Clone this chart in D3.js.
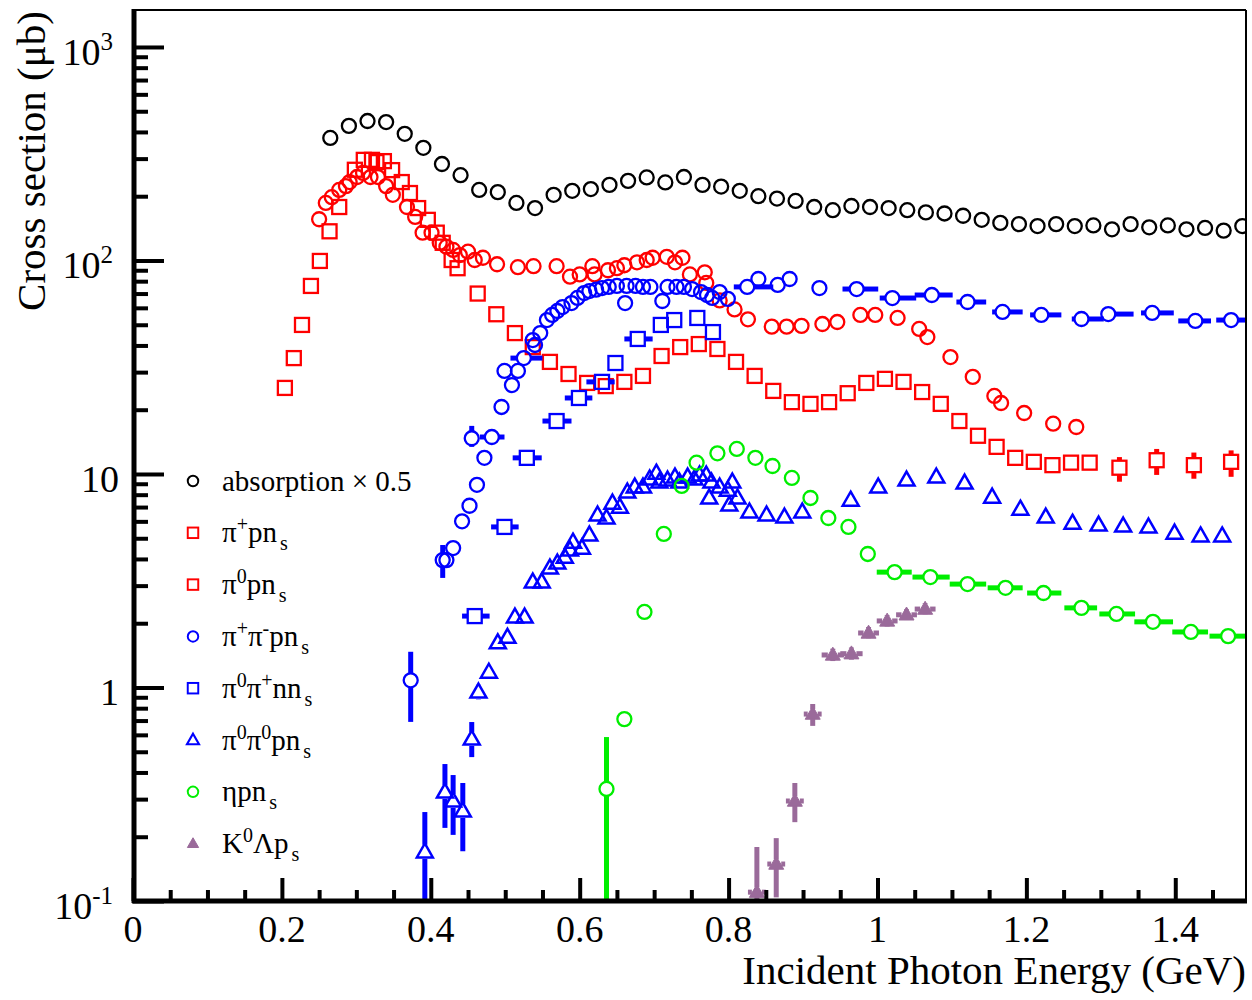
<!DOCTYPE html>
<html><head><meta charset="utf-8">
<script src="https://cdn.jsdelivr.net/npm/d3@7"></script>
<style>body{margin:0;background:#fff} text{font-family:"Liberation Serif","Times New Roman",serif;fill:#000}</style>
</head><body><svg id="c" width="1252" height="1000"></svg>
<script>
// ---------------- data ----------------
// rows: [E (GeV), sigma, errLow, errHigh, binLow, binHigh]
const absorption = [[0.265,375],[0.29,427],[0.315,450],[0.34,445],[0.365,392],[0.39,337],[0.415,283],[0.44,251],[0.465,214],[0.49,209],[0.515,186],[0.54,176],[0.565,203],[0.59,212],[0.615,216],[0.64,226],[0.665,236],[0.69,245],[0.715,232],[0.74,246],[0.765,226],[0.79,222],[0.815,212],[0.84,200],[0.865,195],[0.89,190],[0.915,178],[0.94,172],[0.965,180],[0.99,178],[1.015,176],[1.04,172],[1.065,168],[1.09,166],[1.115,162],[1.14,155],[1.165,150],[1.19,148],[1.215,145],[1.24,148],[1.265,145],[1.29,146],[1.315,140],[1.34,148],[1.365,143],[1.39,146],[1.415,140],[1.44,142],[1.465,138],[1.49,145]];
const piPlusP = [[0.250,156],[0.259,186],[0.267,198],[0.277,214],[0.286,223],[0.291,233],[0.301,246],[0.309,257],[0.319,246],[0.329,246],[0.340,223],[0.349,203],[0.368,178],[0.379,160],[0.389,135],[0.401,135],[0.412,121],[0.421,116],[0.430,112],[0.439,106],[0.450,110],[0.459,100.5],[0.470,103],[0.489,96],[0.517,93],[0.538,94],[0.569,94],[0.587,84],[0.600,86],[0.617,94],[0.620,86],[0.638,90],[0.650,92],[0.660,95],[0.677,98],[0.690,100.5],[0.698,103],[0.717,104],[0.728,98],[0.738,103],[0.748,86],[0.768,88],[0.770,78.5],[0.788,65],[0.808,59],[0.826,53],[0.858,49],[0.878,49],[0.898,49.4],[0.926,50.4],[0.946,51.5],[0.977,55.6],[0.997,55.6],[1.027,53.8],[1.056,47.8],[1.067,43.8],[1.098,35.3],[1.128,28.5],[1.157,23.2],[1.166,21.5],[1.197,19.3],[1.236,17.2],[1.267,16.6]];
const piZeroP = [[0.204,25.3],[0.216,34.9],[0.227,49.9],[0.239,76],[0.251,99.5],[0.264,137],[0.277,178],[0.298,266],[0.310,296],[0.321,296],[0.327,289],[0.337,292],[0.348,265],[0.361,233],[0.372,207],[0.383,176],[0.396,155],[0.408,135],[0.416,121],[0.428,100.5],[0.436,92],[0.463,70],[0.488,56],[0.513,45.7],[0.537,39.3],[0.56,33.5],[0.585,29.4],[0.61,26.7],[0.635,25.8],[0.66,27.0],[0.685,28.8],[0.71,35.7],[0.735,39.3],[0.76,40.6],[0.785,38.5],[0.81,33.5],[0.835,28.8],[0.86,24.5],[0.885,21.7],[0.91,21.3],[0.935,21.7],[0.96,23.9],[0.985,26.7],[1.01,27.9],[1.035,27.0],[1.06,24.2],[1.085,21.3],[1.11,17.7],[1.135,15.1],[1.16,13.4],[1.185,11.9],[1.21,11.4],[1.235,11.0],[1.26,11.3],[1.285,11.3],[1.325,10.7,9.2,12.0],[1.375,11.6,9.9,13.1],[1.425,11.0,9.5,12.6],[1.475,11.4,9.7,12.9]];
const piPlusPiMinusP = [[0.373,1.08,0.69,1.47],[0.416,3.95,3.26,4.65],[0.421,3.95],[0.430,4.5],[0.442,6.0],[0.452,7.1],[0.455,14.7,13.4,16.8],[0.462,8.9],[0.472,11.9],[0.482,14.9,null,null,0.466,0.499],[0.495,20.6],[0.499,30.4],[0.509,26.1],[0.517,30.4],[0.525,34.9,null,null,0.507,0.550],[0.537,42.4],[0.540,40.2],[0.547,45.7],[0.556,52.6],[0.563,55.6],[0.570,58.0],[0.577,60.5],[0.589,63.2],[0.597,66.8],[0.606,70.4],[0.613,71.9],[0.622,73.0],[0.630,74.3],[0.639,75.2],[0.650,76.0],[0.661,63.2],[0.663,76.0],[0.675,76.0],[0.685,75.2],[0.695,75.2],[0.711,64.6],[0.718,75.2],[0.730,75.2],[0.740,75.2],[0.751,73.5],[0.763,71.1],[0.771,68.9],[0.778,66.8],[0.788,71.1],[0.799,66.1],[0.825,75.2,null,null,0.807,0.860],[0.840,81.9],[0.866,76.8],[0.882,81.9,76,88],[0.922,74.3,69,80],[0.972,73.5,null,null,0.953,1.001],[1.020,66.7,null,null,1.003,1.052],[1.073,68.9,null,null,1.050,1.101],[1.121,63.9,null,null,1.106,1.146],[1.168,57.4,null,null,1.154,1.195],[1.220,55.6,null,null,1.205,1.247],[1.274,53.2,null,null,1.261,1.304],[1.310,56.1,null,null,1.301,1.344],[1.369,56.8,null,null,1.354,1.398],[1.427,52.1,null,null,1.404,1.448],[1.475,52.6,null,null,1.455,1.497]];
const piZeroPiPlusN = [[0.459,2.16,null,null,0.442,0.479],[0.499,5.65,null,null,0.481,0.518],[0.529,11.9,null,null,0.510,0.549],[0.569,17.7,null,null,0.550,0.589],[0.599,22.7,null,null,0.580,0.617],[0.630,27.0,null,null,0.609,0.647],[0.648,33.1],[0.678,42.9,null,null,0.660,0.698],[0.709,49.9],[0.727,52.6],[0.758,53.8],[0.779,46.2]];
const piZeroPiZeroP = [[0.392,0.170,0.098,0.261],[0.419,0.324,0.220,0.438],[0.430,0.294,0.204,0.389],[0.443,0.264,0.171,0.357],[0.455,0.574,0.472,0.689],[0.464,0.953,0.88,1.03],[0.478,1.18,1.10,1.27],[0.490,1.62],[0.503,1.72],[0.513,2.14],[0.526,2.14],[0.537,3.12],[0.549,3.12],[0.560,3.63],[0.570,3.83],[0.580,4.08],[0.587,4.41],[0.591,4.80],[0.603,4.50],[0.613,5.18],[0.624,6.43],[0.636,6.22],[0.644,7.31],[0.654,7.00],[0.664,8.24],[0.674,8.69],[0.685,8.69],[0.694,9.48],[0.703,10.1],[0.707,9.18],[0.718,9.37],[0.728,9.68],[0.734,9.18],[0.745,9.68],[0.754,9.48],[0.761,9.89],[0.770,9.89],[0.774,7.72],[0.777,9.18],[0.788,8.69],[0.799,8.41],[0.801,7.16],[0.805,9.18],[0.812,7.72],[0.828,6.64],[0.851,6.43],[0.875,6.29],[0.899,6.64],[0.964,7.55],[1.001,8.69],[1.039,9.37],[1.079,9.68],[1.117,9.08],[1.154,7.80],[1.192,6.85],[1.226,6.29],[1.262,5.89],[1.297,5.77],[1.330,5.71],[1.364,5.65],[1.399,5.29],[1.434,5.13],[1.463,5.13]];
const etaP = [[0.636,0.335,0.05,0.586],[0.660,0.711,null,null,0.652,0.668],[0.687,2.26],[0.713,5.24],[0.737,8.79],[0.757,11.3],[0.785,12.5],[0.811,13.1],[0.836,11.9],[0.859,10.9],[0.885,9.58],[0.910,7.72],[0.934,6.22],[0.961,5.65],[0.987,4.22],[1.023,3.47,null,null,0.999,1.046],[1.071,3.29,null,null,1.047,1.097],[1.121,3.05,null,null,1.097,1.146],[1.172,2.93,null,null,1.148,1.195],[1.223,2.77,null,null,1.201,1.247],[1.274,2.36,null,null,1.251,1.295],[1.321,2.21,null,null,1.298,1.346],[1.370,2.03,null,null,1.345,1.397],[1.421,1.82,null,null,1.396,1.444],[1.471,1.74,null,null,1.446,1.495]];
const kaonLambda = [[0.838,0.110,0.05,0.179,0.826,0.850],[0.864,0.149,0.104,0.197,0.852,0.876],[0.889,0.294,0.234,0.357,0.877,0.901],[0.913,0.751,0.661,0.837,0.901,0.925],[0.940,1.42,1.33,1.52,0.925,0.955],[0.965,1.44,1.35,1.54,0.950,0.980],[0.988,1.80,1.70,1.92,0.974,1.002],[1.013,2.05,1.93,2.18,0.999,1.027],[1.039,2.19,2.07,2.33,1.025,1.053],[1.064,2.33,2.20,2.48,1.050,1.078]];

const xTickValues = [0,0.2,0.4,0.6,0.8,1,1.2,1.4];
const xTickLabels = ["0","0.2","0.4","0.6","0.8","1","1.2","1.4"];
const yTickValues = [0.1,1,10,100,1000];
const yTickLabels = ["10^{-1}","1","10","10^{2}","10^{3}"];
const legendLabels = ["absorption × 0.5","π^{+}pn_{s}","π^{0}pn_{s}","π^{+}π^{-}pn_{s}","π^{0}π^{+}nn_{s}","π^{0}π^{0}pn_{s}","ηpn_{s}","K^{0}Λp_{s}"];
const xTitle = "Incident Photon Energy (GeV)";
const yTitle = "Cross section (μb)";

// ---------------- layout ----------------
const svg = d3.select("#c");
const L=133, R=1246, T=10, B=901;
const x = d3.scaleLinear().domain([0,1.495]).range([L,R]);
const y = d3.scaleLog().domain([0.1,1490]).range([B,T]);

const series = [
  {data:absorption, color:"#000", shape:"circle"},
  {data:piPlusP, color:"#ff0000", shape:"circle"},
  {data:piZeroP, color:"#ff0000", shape:"square"},
  {data:piPlusPiMinusP, color:"#0000ff", shape:"circle"},
  {data:piZeroPiPlusN, color:"#0000ff", shape:"square"},
  {data:piZeroPiZeroP, color:"#0000ff", shape:"triangle"},
  {data:etaP, color:"#00ee00", shape:"circle"},
  {data:kaonLambda, color:"#9a6a9a", shape:"ftriangle"}
];
const legendShapes = [
  {color:"#000",shape:"circle"},{color:"#ff0000",shape:"square"},{color:"#ff0000",shape:"square"},
  {color:"#0000ff",shape:"circle"},{color:"#0000ff",shape:"square"},{color:"#0000ff",shape:"triangle"},
  {color:"#00ee00",shape:"circle"},{color:"#9a6a9a",shape:"ftriangle"}
];

svg.append("defs").append("clipPath").attr("id","clip").append("rect")
  .attr("x",L).attr("y",T).attr("width",R-L).attr("height",B-T);

function drawMarker(g, shape, color, cx, cy, s){
  if(shape==="circle"){
    g.append("circle").attr("cx",cx).attr("cy",cy).attr("r",7*s)
      .attr("fill","none").attr("stroke",color).attr("stroke-width",2.3*Math.max(s,0.85));
  } else if(shape==="square"){
    const h=7*s;
    g.append("rect").attr("x",cx-h).attr("y",cy-h).attr("width",2*h).attr("height",2*h)
      .attr("fill","none").attr("stroke",color).attr("stroke-width",2.3*Math.max(s,0.85));
  } else if(shape==="triangle"){
    const w=8*s, hh=14*s;
    g.append("path").attr("d",`M${cx},${cy-hh*0.6}L${cx+w},${cy+hh*0.4}L${cx-w},${cy+hh*0.4}Z`)
      .attr("fill","none").attr("stroke",color).attr("stroke-width",2.5*Math.max(s,0.85));
  } else {
    const w=7.5*s, hh=13*s;
    g.append("path").attr("d",`M${cx},${cy-hh*0.6}L${cx+w},${cy+hh*0.4}L${cx-w},${cy+hh*0.4}Z`)
      .attr("fill",color).attr("stroke",color).attr("stroke-width",1);
  }
}

const plot = svg.append("g").attr("clip-path","url(#clip)");
series.forEach(sr=>{
  const g = plot.append("g");
  const gap = sr.shape==="ftriangle" ? 5 : 7;
  sr.data.forEach(d=>{
    const cx=x(d[0]), cy=y(d[1]);
    if(d[2]!=null && d[3]!=null){
      const yl=y(Math.max(d[2],0.05)), yh=y(d[3]);
      if(yh < cy-gap) g.append("line").attr("x1",cx).attr("x2",cx).attr("y1",cy-gap).attr("y2",yh)
          .attr("stroke",sr.color).attr("stroke-width",5);
      if(yl > cy+gap) g.append("line").attr("x1",cx).attr("x2",cx).attr("y1",cy+gap).attr("y2",Math.min(yl,B+5))
          .attr("stroke",sr.color).attr("stroke-width",5);
    }
    if(d[4]!=null && d[5]!=null){
      const xl=x(d[4]), xh=x(d[5]);
      if(xl < cx-gap) g.append("line").attr("x1",xl).attr("x2",cx-gap).attr("y1",cy).attr("y2",cy)
          .attr("stroke",sr.color).attr("stroke-width",5);
      if(xh > cx+gap) g.append("line").attr("x1",cx+gap).attr("x2",xh).attr("y1",cy).attr("y2",cy)
          .attr("stroke",sr.color).attr("stroke-width",5);
    }
    drawMarker(g, sr.shape, sr.color, cx, cy, 1);
  });
});

// ---------------- axes ----------------
const xMinor = d3.range(0,1.5,0.05).map(v=>+v.toFixed(2)).filter(v=>!xTickValues.some(t=>Math.abs(t-v)<1e-6));
const yMinor = [];
[-1,0,1,2,3].forEach(k=>{for(let m=2;m<=9;m++){const v=m*Math.pow(10,k); if(v<1490) yMinor.push(v);}});

function styleAxis(g){ g.select(".domain").remove(); g.selectAll(".tick line").attr("stroke","#000").attr("stroke-width",4); g.selectAll(".tick text").remove(); }
svg.append("g").attr("transform",`translate(0,${B})`).call(d3.axisBottom(x).tickValues(xTickValues).tickSize(-23)).call(styleAxis);
svg.append("g").attr("transform",`translate(0,${B})`).call(d3.axisBottom(x).tickValues(xMinor).tickSize(-11)).call(styleAxis);
svg.append("g").attr("transform",`translate(${L},0)`).call(d3.axisLeft(y).tickValues(yTickValues).tickSize(-31)).call(styleAxis);
svg.append("g").attr("transform",`translate(${L},0)`).call(d3.axisLeft(y).tickValues(yMinor).tickSize(-15)).call(styleAxis);

// frame
svg.append("line").attr("x1",L).attr("x2",R).attr("y1",T).attr("y2",T).attr("stroke","#000").attr("stroke-width",2);
svg.append("line").attr("x1",R).attr("x2",R).attr("y1",T).attr("y2",B).attr("stroke","#000").attr("stroke-width",2);
svg.append("line").attr("x1",L+1).attr("x2",L+1).attr("y1",T-1).attr("y2",B+2).attr("stroke","#000").attr("stroke-width",5);
svg.append("line").attr("x1",L-1).attr("x2",R+1).attr("y1",B).attr("y2",B).attr("stroke","#000").attr("stroke-width",5);

// rich text helper: ^{..} superscript, _{..} subscript
function richText(sel, str, fs, supFs, supDy, subDy, subGap){
  const re=/(\^\{[^}]*\}|_\{[^}]*\})/g;
  const parts=str.split(re).filter(p=>p.length);
  let state=0;
  parts.forEach(p=>{
    let t=p, mode=0;
    if(p.startsWith("^{")){t=p.slice(2,-1);mode=1;} else if(p.startsWith("_{")){t=p.slice(2,-1);mode=-1;}
    const dy = (mode===1? -supDy : mode===-1? subDy : 0) - (state===1? -supDy : state===-1? subDy:0);
    const ts=sel.append("tspan").attr("dy",dy).attr("font-size",mode===0?fs:supFs).text(t);
    if(mode===-1 && subGap) ts.attr("dx",subGap);
    state=mode;
  });
}

// x tick labels
xTickValues.forEach((v,i)=>{
  svg.append("text").attr("x",x(v)).attr("y",942).attr("text-anchor","middle").attr("font-size",38).text(xTickLabels[i]);
});
// y tick labels
yTickValues.forEach((v,i)=>{
  const plain = yTickLabels[i].indexOf("^")<0;
  const t=svg.append("text").attr("x",plain?119:113).attr("y",y(v)+18).attr("text-anchor","end").attr("font-size",38);
  richText(t, yTickLabels[i], 38, 25, 15, 0, 0);
});

// titles
svg.append("text").attr("x",1246).attr("y",984).attr("text-anchor","end").attr("font-size",41).text(xTitle);
svg.append("text").attr("transform","translate(45,161) rotate(-90)").attr("text-anchor","middle").attr("font-size",41).text(yTitle);

// legend
legendLabels.forEach((lab,i)=>{
  const cy = 481 + i*51.8;
  drawMarker(svg, legendShapes[i].shape, legendShapes[i].color, 193, cy, 0.75);
  const t=svg.append("text").attr("x",222).attr("y",cy+9.5).attr("font-size",29);
  richText(t, lab, 29, 20, 11, 8, 3);
});
</script></body></html>
